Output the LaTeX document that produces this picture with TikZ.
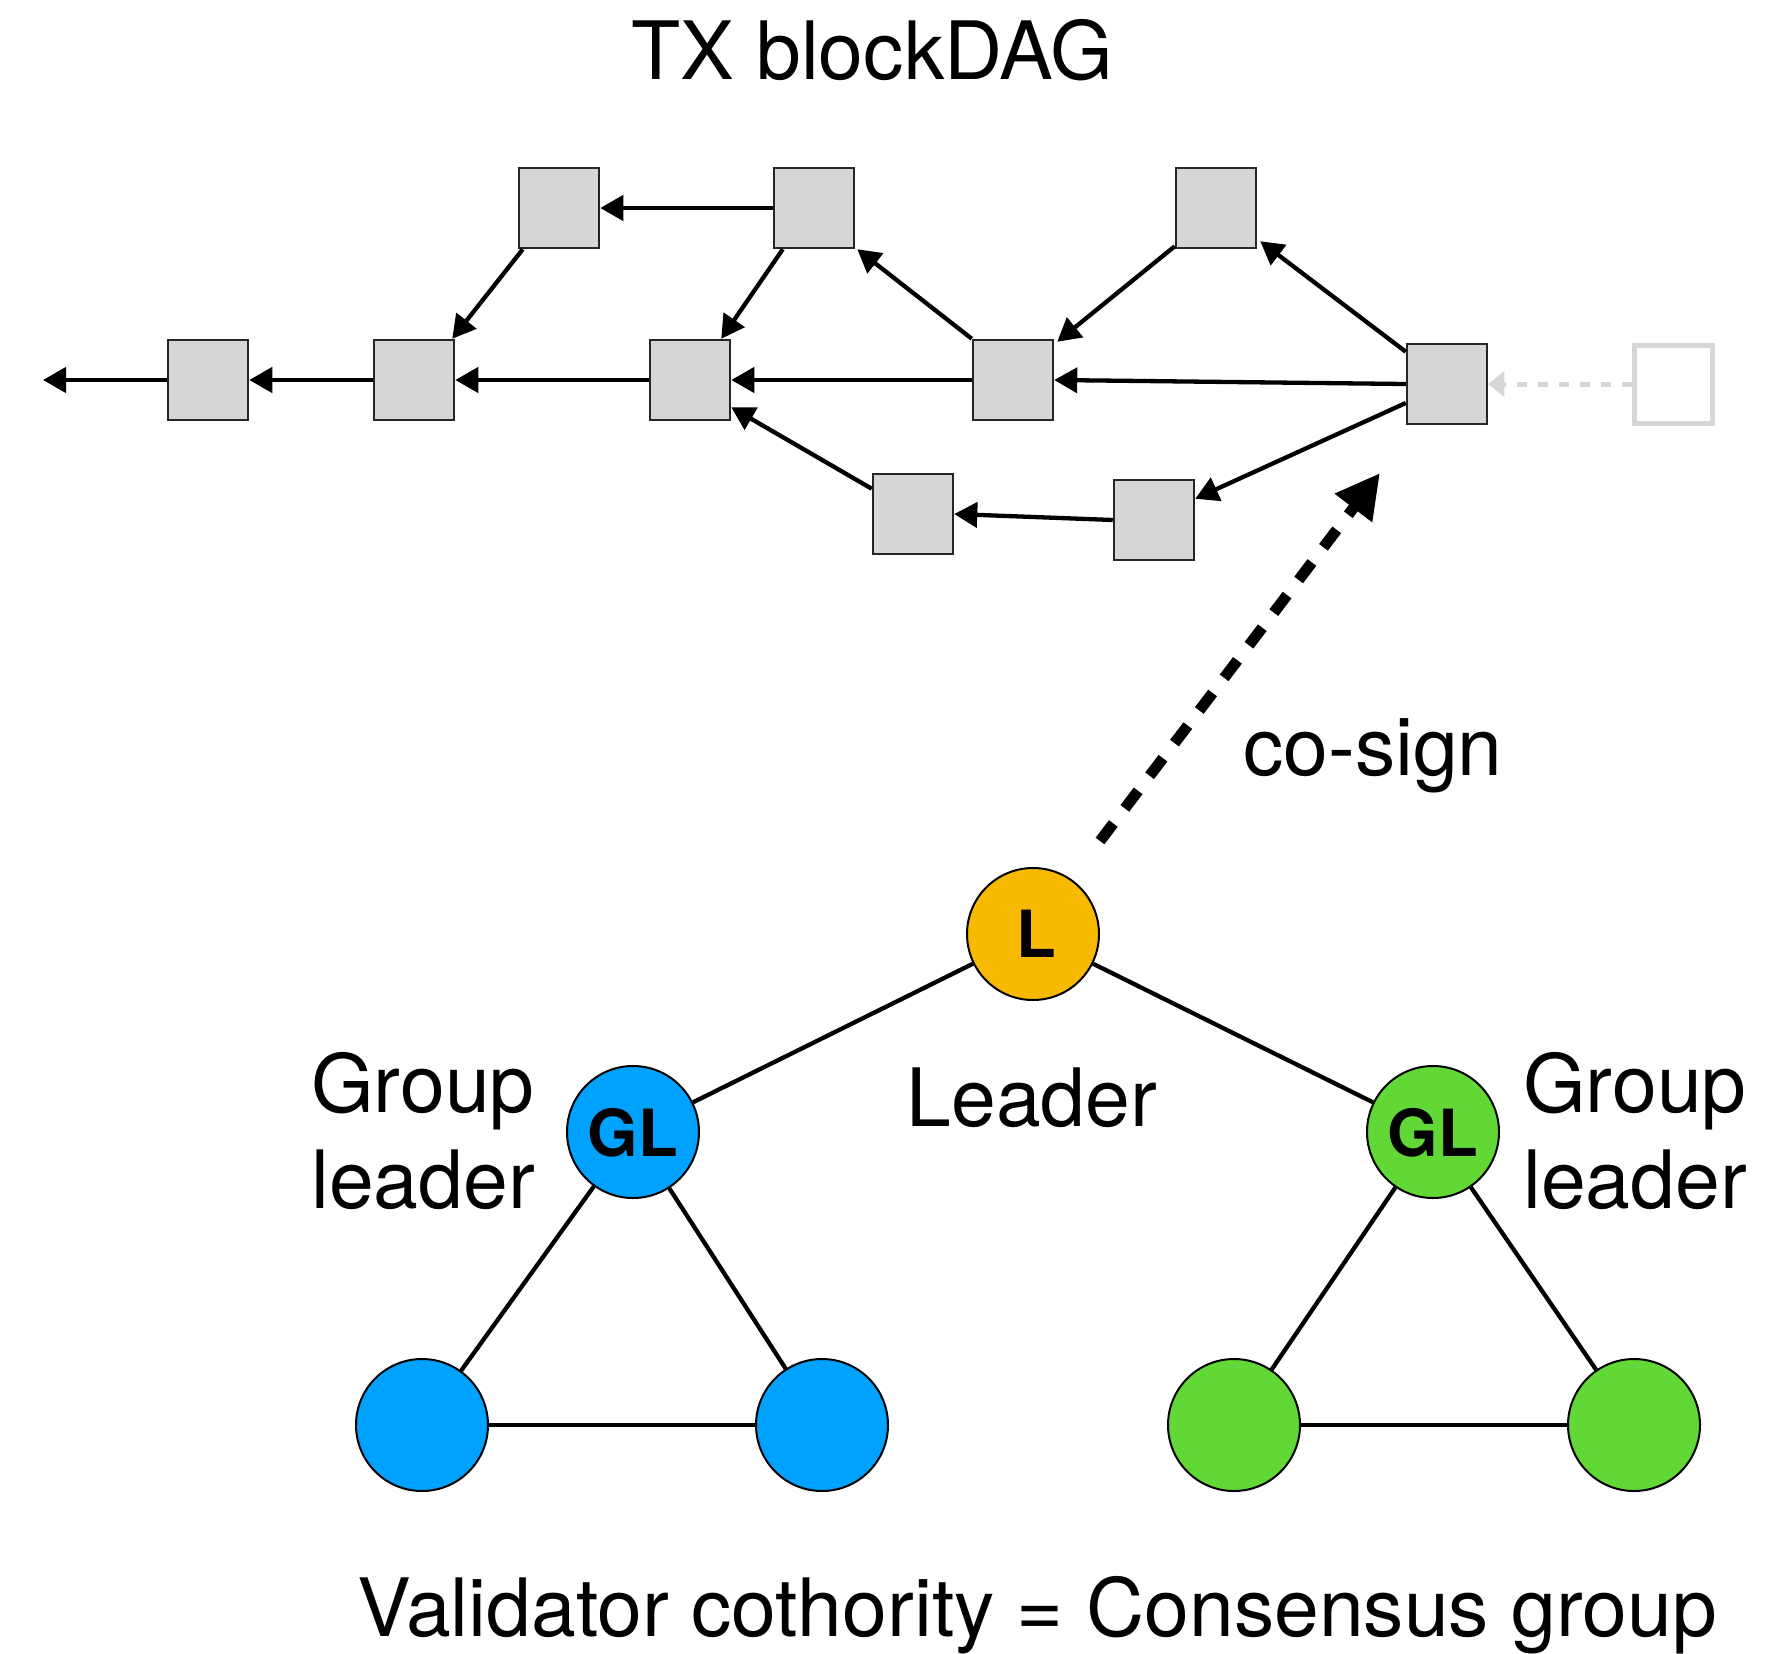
\documentclass[tikz,border=0pt]{standalone}
\usepackage{fontspec}
\setmainfont{TeX Gyre Heros}
\usetikzlibrary{arrows.meta,calc}
\definecolor{boxgray}{HTML}{D6D6D6}
\definecolor{lyellow}{RGB}{248,186,0}
\definecolor{gblue}{RGB}{0,162,255}
\definecolor{ggreen}{RGB}{97,216,54}
\begin{document}
\begin{tikzpicture}[x=1pt,y=-1pt,
  blk/.style={draw=black!85, line width=2.5pt, fill=boxgray, minimum size=80pt, inner sep=0pt},
  ghost/.style={draw=boxgray, line width=5pt, minimum size=78pt, inner sep=0pt},
  dag/.style={line width=4.3pt, -{Triangle[length=23pt,width=25pt]}},
  ghostarrow/.style={line width=5pt, draw=boxgray, dash pattern=on 10pt off 11pt, -{Triangle[length=16pt,width=25pt]}},
  cosign/.style={line width=11pt, dash pattern=on 22pt off 19pt, -{Triangle[length=44pt,width=44pt]}},
  member/.style={circle, draw=black, line width=2pt, minimum size=132pt, inner sep=0pt},
  tree/.style={line width=4.3pt},
  lbl/.style={inner sep=0pt, font=\fontsize{80.5}{96}\selectfont},
  badge/.style={inner sep=0pt, anchor=base, font=\fontsize{65}{66}\selectfont\bfseries}
]
\useasboundingbox (0,0) rectangle (1788,1654);

% title
\node[lbl, anchor=base] (title) at (872,80) {TX blockDAG};

% blocks
\node[blk] (A) at (559,208) {};
\node[blk] (B) at (814,208) {};
\node[blk] (C) at (1216,208) {};
\node[blk] (D) at (208,380) {};
\node[blk] (E) at (414,380) {};
\node[blk] (F) at (690,380) {};
\node[blk] (G) at (1013,380) {};
\node[blk] (H) at (1447,384) {};
\node[ghost] (I) at (1673,384) {};
\node[blk] (J) at (913,514) {};
\node[blk] (K) at (1154,520) {};
\coordinate (tail) at (43,380);

% DAG edges
\draw[dag] (B.west) -- (A.east);
\draw[dag] ([xshift=5pt]A.south west) -- ([xshift=-3pt]E.north east);
\draw[dag] ([xshift=10pt]B.south west) -- ([xshift=-10pt]F.north east);
\draw[dag] (G.north west) -- ([xshift=2pt]B.south east);
\draw[dag] ([yshift=3pt]C.south west) -- ([xshift=3pt,yshift=-3pt]G.north east);
\draw[dag] ([yshift=-9pt]H.north west) -- ([xshift=3pt,yshift=8pt]C.south east);
\draw[dag] (H.west) -- (G.east);
\draw[dag] (G.west) -- (F.east);
\draw[dag] (F.west) -- (E.east);
\draw[dag] (E.west) -- (D.east);
\draw[dag] (D.west) -- (tail);
\draw[dag] ([yshift=-19pt]H.west) -- ([yshift=-20pt]K.north east);
\draw[dag] (K.west) -- (J.east);
\draw[dag] ([yshift=-16pt]J.north west) -- ([yshift=14pt]F.south east);
\draw[ghostarrow] (I.west) -- (H.east);

% co-sign arrow
\coordinate (cs0) at (1100,841);
\coordinate (cs1) at (1380,473);
\draw[cosign] (cs0) -- (cs1);
\node[lbl, anchor=base west] (cosignlbl) at (1243,775) {co-sign};

% validator tree
\node[member, fill=lyellow] (L) at (1033,934) {};
\node[badge] (Ltxt) at ($(L)+(3,23)$) {L};
\node[member, fill=gblue] (GLb) at (633,1132) {};
\node[badge] (GLbtxt) at ($(GLb)+(0,24)$) {GL};
\node[member, fill=ggreen] (GLg) at (1433,1132) {};
\node[badge] (GLgtxt) at ($(GLg)+(0,24)$) {GL};
\node[member, fill=gblue] (b1) at (422,1425) {};
\node[member, fill=gblue] (b2) at (822,1425) {};
\node[member, fill=ggreen] (g1) at (1234,1425) {};
\node[member, fill=ggreen] (g2) at (1634,1425) {};

\draw[tree] (L) -- (GLb);
\draw[tree] (L) -- (GLg);
\draw[tree] (GLb) -- (b1);
\draw[tree] (GLb) -- (b2);
\draw[tree] (b1) -- (b2);
\draw[tree] (GLg) -- (g1);
\draw[tree] (GLg) -- (g2);
\draw[tree] (g1) -- (g2);

% labels
\node[lbl, anchor=base] (leaderlbl) at (1032,1126) {Leader};
\node[lbl, anchor=base west] (gla) at (311,1112) {Group};
\node[lbl, anchor=base west] (glb) at (311,1208) {leader};
\node[lbl, anchor=base west] (gra) at (1523,1112) {Group};
\node[lbl, anchor=base west] (grb) at (1523,1208) {leader};
\node[lbl, anchor=base west] (valid) at (357,1636) {Validator cothority = Consensus group};
\end{tikzpicture}
\end{document}
